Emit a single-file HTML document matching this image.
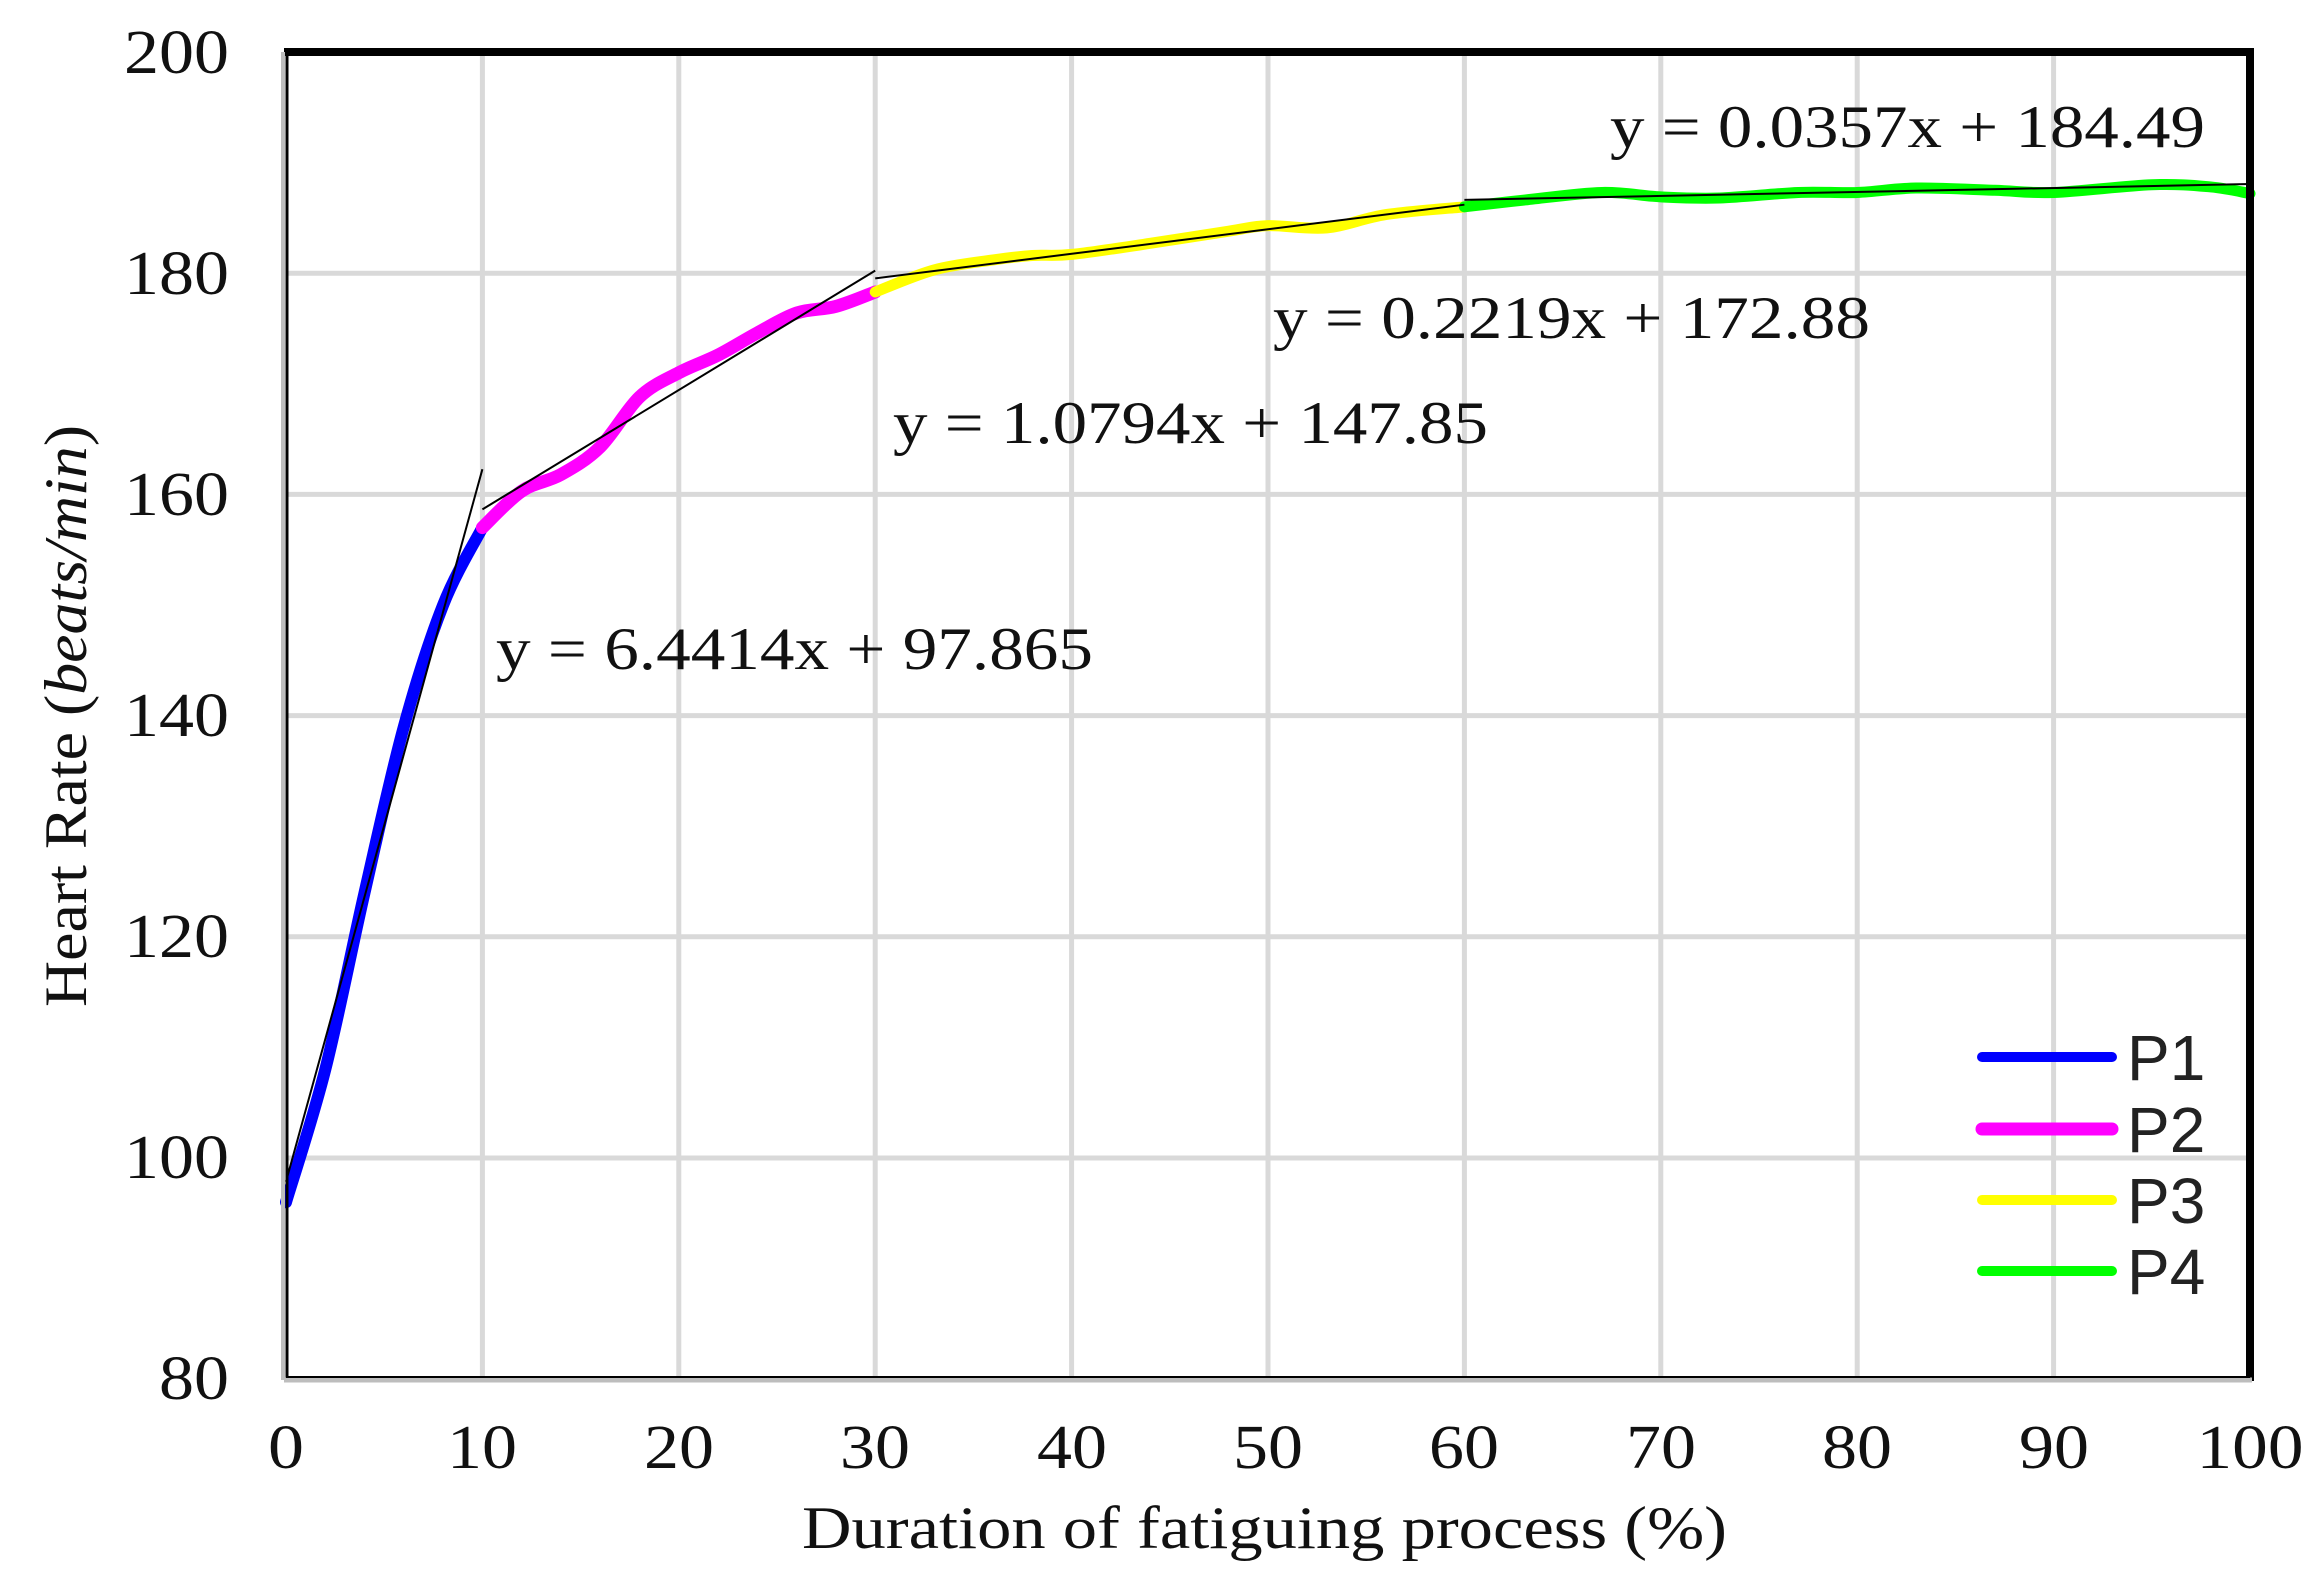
<!DOCTYPE html>
<html><head><meta charset="utf-8"><style>
html,body{margin:0;padding:0;background:#fff;}
svg{display:block;}
.t{font-family:"Liberation Serif",serif;fill:#111;}
.s{font-family:"Liberation Sans",sans-serif;fill:#222;}
</style></head><body>
<svg id="c" width="2321" height="1586" viewBox="0 0 2321 1586" xmlns="http://www.w3.org/2000/svg">
<rect width="2321" height="1586" fill="#fff"/>
<g id="grid" stroke="#d9d9d9" stroke-width="5"></g>
<g id="series" fill="none" stroke-linecap="round" stroke-linejoin="round"></g>
<g id="trend" fill="none" stroke="#000" stroke-width="2"></g>
<line x1="284" y1="52" x2="2250" y2="52" stroke="#000" stroke-width="8"/>
<line x1="2250" y1="48" x2="2250" y2="1381" stroke="#000" stroke-width="8"/>
<line x1="283" y1="52" x2="283" y2="1380" stroke="#bdbdbd" stroke-width="4"/>
<line x1="287" y1="52" x2="287" y2="1380" stroke="#000" stroke-width="3"/>
<line x1="284" y1="1380" x2="2252" y2="1380" stroke="#bdbdbd" stroke-width="5"/>
<line x1="286" y1="1377" x2="2250" y2="1377" stroke="#000" stroke-width="2"/>
<g class="t" font-size="62" text-anchor="end">
<text x="229" y="73" textLength="105" lengthAdjust="spacingAndGlyphs">200</text>
<text x="229" y="294" textLength="105" lengthAdjust="spacingAndGlyphs">180</text>
<text x="229" y="515" textLength="105" lengthAdjust="spacingAndGlyphs">160</text>
<text x="229" y="736" textLength="105" lengthAdjust="spacingAndGlyphs">140</text>
<text x="229" y="957" textLength="105" lengthAdjust="spacingAndGlyphs">120</text>
<text x="229" y="1178" textLength="105" lengthAdjust="spacingAndGlyphs">100</text>
<text x="229" y="1399" textLength="70" lengthAdjust="spacingAndGlyphs">80</text>
</g>
<g class="t" font-size="62" text-anchor="middle">
<text x="286" y="1468" textLength="36" lengthAdjust="spacingAndGlyphs">0</text>
<text x="482" y="1468" textLength="70" lengthAdjust="spacingAndGlyphs">10</text>
<text x="679" y="1468" textLength="70" lengthAdjust="spacingAndGlyphs">20</text>
<text x="875" y="1468" textLength="70" lengthAdjust="spacingAndGlyphs">30</text>
<text x="1072" y="1468" textLength="70" lengthAdjust="spacingAndGlyphs">40</text>
<text x="1268" y="1468" textLength="70" lengthAdjust="spacingAndGlyphs">50</text>
<text x="1464" y="1468" textLength="70" lengthAdjust="spacingAndGlyphs">60</text>
<text x="1661" y="1468" textLength="70" lengthAdjust="spacingAndGlyphs">70</text>
<text x="1857" y="1468" textLength="70" lengthAdjust="spacingAndGlyphs">80</text>
<text x="2054" y="1468" textLength="70" lengthAdjust="spacingAndGlyphs">90</text>
<text x="2250" y="1468" textLength="107" lengthAdjust="spacingAndGlyphs">100</text>
</g>
<text class="t" font-size="60" x="802" y="1548" textLength="925" lengthAdjust="spacingAndGlyphs">Duration of fatiguing process (%)</text>
<text class="t" font-size="60" transform="translate(86,716) rotate(-90)" text-anchor="middle" textLength="582" lengthAdjust="spacingAndGlyphs">Heart Rate (<tspan font-style="italic">beats/min</tspan>)</text>
<g class="t" font-size="60">
<text x="1610" y="147" textLength="595" lengthAdjust="spacingAndGlyphs">y = 0.0357x + 184.49</text>
<text x="1273" y="338" textLength="597" lengthAdjust="spacingAndGlyphs">y = 0.2219x + 172.88</text>
<text x="893" y="443" textLength="595" lengthAdjust="spacingAndGlyphs">y = 1.0794x + 147.85</text>
<text x="496" y="669" textLength="597" lengthAdjust="spacingAndGlyphs">y = 6.4414x + 97.865</text>
</g>
<g stroke-width="10" stroke-linecap="round">
<line x1="1982" y1="1057" x2="2112" y2="1057" stroke="#0000ff"/>
<line x1="1982" y1="1129" x2="2112" y2="1129" stroke="#ff00ff" stroke-width="13"/>
<line x1="1982" y1="1200" x2="2112" y2="1200" stroke="#ffff00"/>
<line x1="1982" y1="1271" x2="2112" y2="1271" stroke="#00ff00"/>
</g>
<g class="s" font-size="64">
<text x="2127" y="1080">P1</text>
<text x="2127" y="1152">P2</text>
<text x="2127" y="1223">P3</text>
<text x="2127" y="1294">P4</text>
</g>
</svg>
<script>
(function(){
var NS="http://www.w3.org/2000/svg";
function X(v){return 286+v*19.64;}
function Y(v){return 52+(200-v)*11.06;}
function el(p,n,a){var e=document.createElementNS(NS,n);for(var k in a)e.setAttribute(k,a[k]);p.appendChild(e);return e;}
var g=document.getElementById('grid');
for(var i=1;i<10;i++)el(g,'line',{x1:X(i*10),y1:52,x2:X(i*10),y2:1377});
for(var v=100;v<200;v+=20)el(g,'line',{x1:288,y1:Y(v),x2:2248,y2:Y(v)});
function path(pts){
 var P=pts.map(function(p){return [X(p[0]),Y(p[1])];});
 var d='M'+P[0][0]+','+P[0][1];
 for(var i=0;i<P.length-1;i++){
  var p0=P[i-1]||P[i],p1=P[i],p2=P[i+1],p3=P[i+2]||P[i+1];
  var c1=[p1[0]+(p2[0]-p0[0])/6,p1[1]+(p2[1]-p0[1])/6];
  var c2=[p2[0]-(p3[0]-p1[0])/6,p2[1]-(p3[1]-p1[1])/6];
  d+=' C'+c1+' '+c2+' '+p2;
 }
 return d;
}
var s=document.getElementById('series');
el(s,'path',{d:path([[0,96],[2,108],[4,124],[6,139],[8,150],[10,157]]),stroke:'#0000ff','stroke-width':12});
el(s,'path',{d:path([[10,157],[12,160.3],[14,161.8],[16,164.3],[18,168.8],[20,171],[22,172.6],[24,174.6],[26,176.4],[28,177],[30,178.3]]),stroke:'#ff00ff','stroke-width':13});
el(s,'path',{d:path([[30,178.3],[33,180.3],[36,181.2],[38,181.6],[40,181.7],[44,182.7],[48,183.8],[50,184.3],[53,184.1],[56,185.3],[60,186]]),stroke:'#ffff00','stroke-width':11});
el(s,'path',{d:path([[60,186],[63,186.6],[67,187.3],[70,186.9],[73,186.8],[77,187.3],[80,187.3],[83,187.7],[87,187.5],[90,187.3],[95,188],[98,187.8],[100,187.2]]),stroke:'#00ff00','stroke-width':11});
var t=document.getElementById('trend');
function L(a,b,m,c){el(t,'line',{x1:X(a),y1:Y(m*a+c),x2:X(b),y2:Y(m*b+c)});}
L(0,10,6.4414,97.865);L(10,30,1.0794,147.85);L(30,60,0.2219,172.88);L(60,100,0.0357,184.49);
})();
</script>
</body></html>
